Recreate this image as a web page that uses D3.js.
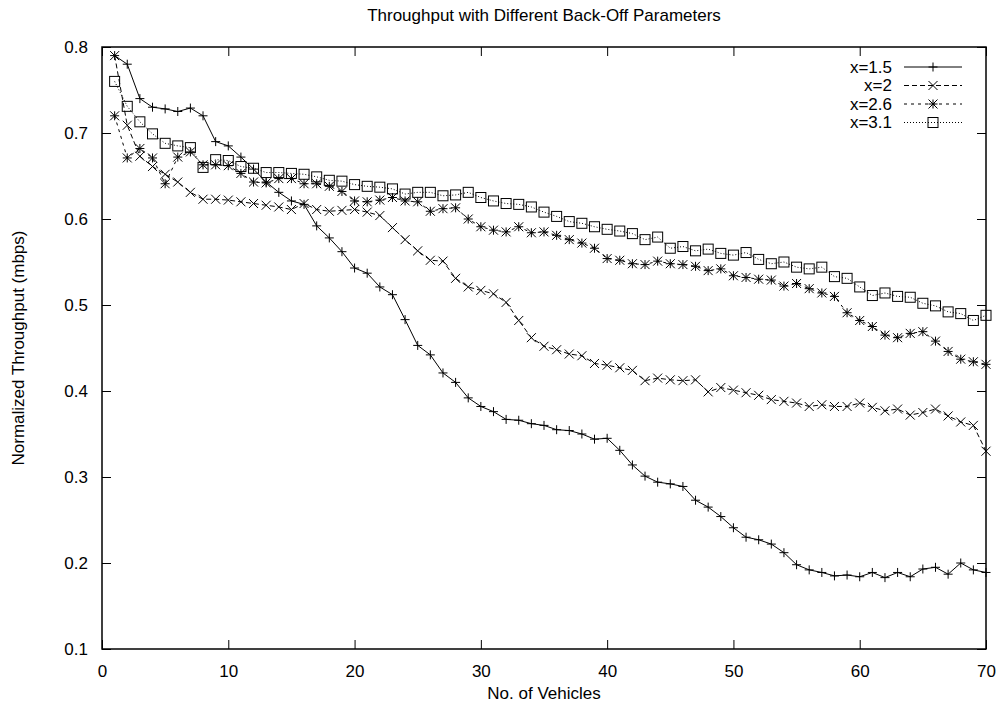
<!DOCTYPE html>
<html lang="en">
    <head>
        <meta charset="utf-8">
        <title>Throughput with Different Back-Off Parameters</title>
        <script type="text/javascript" src="https://d3js.org/d3.v7.min.js"></script>
        <style type="text/css">
            body { margin: 0; background: #fff; }
            text { font-family: "Liberation Sans", Arial, sans-serif; font-size: 17px; fill: #000; }
        </style>
    </head>
    <body>
        <div id="chart"></div>
        <script type="text/javascript">
            // data, x = 1..70 vehicles
            const vehicles = d3.range(1, 71);
            const xTicks = [0, 10, 20, 30, 40, 50, 60, 70];
            const yTicks = [0.1, 0.2, 0.3, 0.4, 0.5, 0.6, 0.7, 0.8];
            const seriesNames = ["x=1.5", "x=2", "x=2.6", "x=3.1"];

            const tp15 = [0.79, 0.78, 0.74, 0.73, 0.728, 0.725, 0.729, 0.72, 0.69, 0.685,
                0.672, 0.658, 0.643, 0.631, 0.621, 0.617, 0.592, 0.578, 0.562, 0.543,
                0.537, 0.521, 0.512, 0.483, 0.453, 0.442, 0.421, 0.41, 0.392, 0.382,
                0.376, 0.367, 0.366, 0.362, 0.36, 0.355, 0.354, 0.35, 0.344, 0.345,
                0.331, 0.314, 0.301, 0.294, 0.292, 0.289, 0.273, 0.265, 0.254, 0.241,
                0.23, 0.227, 0.222, 0.212, 0.198, 0.192, 0.189, 0.185, 0.186, 0.184,
                0.189, 0.183, 0.189, 0.184, 0.193, 0.195, 0.187, 0.2, 0.192, 0.189];
            const tp2 = [0.79, 0.709, 0.673, 0.661, 0.652, 0.643, 0.631, 0.623, 0.623, 0.622,
                0.62, 0.618, 0.616, 0.614, 0.611, 0.618, 0.611, 0.609, 0.61, 0.611,
                0.608, 0.604, 0.59, 0.576, 0.563, 0.552, 0.551, 0.531, 0.521, 0.517,
                0.513, 0.503, 0.482, 0.462, 0.452, 0.448, 0.443, 0.441, 0.432, 0.43,
                0.427, 0.424, 0.412, 0.415, 0.413, 0.412, 0.413, 0.399, 0.404, 0.401,
                0.398, 0.395, 0.39, 0.388, 0.386, 0.382, 0.384, 0.382, 0.382, 0.386,
                0.381, 0.377, 0.379, 0.372, 0.375, 0.379, 0.371, 0.364, 0.36, 0.33];
            const tp26 = [0.72, 0.671, 0.682, 0.671, 0.641, 0.672, 0.678, 0.663, 0.663, 0.662,
                0.653, 0.643, 0.642, 0.647, 0.647, 0.641, 0.641, 0.638, 0.632, 0.621,
                0.62, 0.622, 0.625, 0.621, 0.62, 0.609, 0.612, 0.613, 0.6, 0.591,
                0.587, 0.585, 0.591, 0.584, 0.585, 0.581, 0.576, 0.572, 0.566, 0.554,
                0.552, 0.548, 0.547, 0.551, 0.548, 0.547, 0.545, 0.54, 0.542, 0.534,
                0.532, 0.53, 0.529, 0.522, 0.525, 0.519, 0.514, 0.51, 0.491, 0.482,
                0.475, 0.465, 0.462, 0.467, 0.469, 0.458, 0.446, 0.437, 0.434, 0.431];
            const tp31 = [0.76, 0.731, 0.713, 0.699, 0.688, 0.685, 0.683, 0.66, 0.669, 0.668,
                0.661, 0.659, 0.654, 0.654, 0.653, 0.652, 0.649, 0.645, 0.644, 0.64,
                0.638, 0.637, 0.635, 0.629, 0.631, 0.631, 0.627, 0.628, 0.631, 0.625,
                0.621, 0.618, 0.617, 0.614, 0.608, 0.603, 0.597, 0.595, 0.591, 0.588,
                0.586, 0.583, 0.576, 0.579, 0.566, 0.568, 0.563, 0.565, 0.56, 0.558,
                0.561, 0.553, 0.548, 0.55, 0.544, 0.542, 0.544, 0.533, 0.531, 0.521,
                0.511, 0.514, 0.51, 0.509, 0.502, 0.499, 0.492, 0.49, 0.482, 0.488];

            const W = 1003, H = 711;
            const margin = {top: 47, right: 17, bottom: 62, left: 102};
            const width = W - margin.left - margin.right;
            const height = H - margin.top - margin.bottom;

            const xScale = d3.scaleLinear().domain([0, 70]).range([0, width]);
            const yScale = d3.scaleLinear().domain([0.1, 0.8]).range([height, 0]);

            const svg = d3.select("#chart").append("svg")
                .attr("width", W)
                .attr("height", H);

            const g = svg.append("g")
                .attr("transform", "translate(" + margin.left + "," + margin.top + ")");

            // axes: gnuplot style, ticks inward, mirrored
            const tickLen = 9;
            const axisBottom = g.append("g").attr("transform", "translate(0," + height + ")")
                .call(d3.axisBottom(xScale).tickValues(xTicks).tickSizeInner(-tickLen).tickSizeOuter(0).tickPadding(tickLen + 7));
            const axisLeft = g.append("g")
                .call(d3.axisLeft(yScale).tickValues(yTicks).tickFormat(d3.format(".1f")).tickSizeInner(-tickLen).tickSizeOuter(0).tickPadding(tickLen + 5));
            const axisTop = g.append("g")
                .call(d3.axisTop(xScale).tickValues(xTicks).tickSizeInner(-tickLen).tickSizeOuter(0).tickFormat(""));
            const axisRight = g.append("g").attr("transform", "translate(" + width + ",0)")
                .call(d3.axisRight(yScale).tickValues(yTicks).tickSizeInner(-tickLen).tickSizeOuter(0).tickFormat(""));

            [axisBottom, axisLeft, axisTop, axisRight].forEach(a => {
                a.select(".domain").remove();
                a.selectAll("line").attr("stroke", "#000");
                a.selectAll("text").attr("font-size", 17).attr("font-family", "Liberation Sans, Arial, sans-serif");
            });

            g.append("rect")
                .attr("width", width)
                .attr("height", height)
                .attr("fill", "none")
                .attr("stroke", "#000")
                .attr("stroke-width", 1.5);

            // markers
            const sz = 4.5;
            function drawMarker(sel, type) {
                if (type === "plus" || type === "star") {
                    sel.append("path").attr("d", `M${-sz},0H${sz}M0,${-sz}V${sz}`);
                }
                if (type === "cross" || type === "star") {
                    sel.append("path").attr("d", `M${-sz},${-sz}L${sz},${sz}M${-sz},${sz}L${sz},${-sz}`);
                }
                if (type === "square") {
                    sel.append("rect").attr("x", -5).attr("y", -5).attr("width", 10).attr("height", 10)
                        .attr("fill", "none");
                }
                sel.selectAll("path, rect").attr("stroke", "#000").attr("stroke-width", 1).attr("fill", "none");
            }

            const series = [
                {name: seriesNames[0], values: tp15, dash: null, marker: "plus"},
                {name: seriesNames[1], values: tp2, dash: "5,3", marker: "cross"},
                {name: seriesNames[2], values: tp26, dash: "3,4", marker: "star"},
                {name: seriesNames[3], values: tp31, dash: "1,2", marker: "square"}
            ];

            const line = d3.line()
                .x((d, i) => xScale(vehicles[i]))
                .y(d => yScale(d));

            series.forEach(s => {
                g.append("path")
                    .datum(s.values)
                    .attr("d", line)
                    .attr("fill", "none")
                    .attr("stroke", "#000")
                    .attr("stroke-width", 1)
                    .attr("stroke-dasharray", s.dash);
                g.append("g").selectAll("g")
                    .data(s.values)
                    .join("g")
                    .attr("transform", (d, i) => "translate(" + xScale(vehicles[i]) + "," + yScale(d) + ")")
                    .each(function() { drawMarker(d3.select(this), s.marker); });
            });

            // legend
            const legend = svg.append("g").attr("transform", "translate(892,67)");
            series.forEach((s, i) => {
                const row = legend.append("g").attr("transform", "translate(0," + (i * 18.5) + ")");
                row.append("text")
                    .attr("text-anchor", "end")
                    .attr("dy", "0.35em")
                    .text(s.name);
                row.append("line")
                    .attr("x1", 12).attr("x2", 70)
                    .attr("stroke", "#000")
                    .attr("stroke-dasharray", s.dash);
                const m = row.append("g").attr("transform", "translate(41,0)");
                drawMarker(m, s.marker);
            });

            // titles
            svg.append("text")
                .attr("x", margin.left + width / 2)
                .attr("y", 21)
                .attr("text-anchor", "middle")
                .text("Throughput with Different Back-Off Parameters");
            svg.append("text")
                .attr("x", margin.left + width / 2)
                .attr("y", H - 12)
                .attr("text-anchor", "middle")
                .text("No. of Vehicles");
            svg.append("text")
                .attr("transform", "translate(24," + (margin.top + height / 2) + ") rotate(-90)")
                .attr("text-anchor", "middle")
                .text("Normalized Throughput (mbps)");
        </script>
    </body>
</html>
